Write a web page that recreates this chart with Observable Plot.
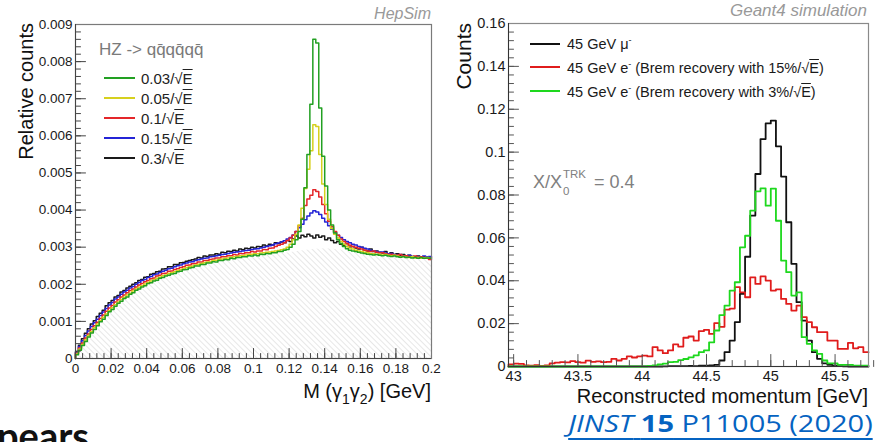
<!DOCTYPE html>
<html><head><meta charset="utf-8">
<script src="https://cdn.jsdelivr.net/npm/d3@7"></script>
<script src="https://cdn.jsdelivr.net/npm/@observablehq/plot@0.6"></script>
<style>
body{margin:0;background:#fff;}
#wrap{position:relative;width:885px;height:442px;overflow:hidden;font-family:"Liberation Sans",Arial,sans-serif;background:#fff;}
#wrap svg{position:absolute;top:0;}
.t{position:absolute;white-space:nowrap;line-height:1;}
.rot{transform:rotate(-90deg);transform-origin:0 0;}
.ov{text-decoration:overline;text-decoration-thickness:1px;}
.ln{position:absolute;height:2px;}
</style></head><body><div id="wrap"></div>
<script>
// ---------------- LEFT PANEL DATA (relative counts, in units of 1e-3) ----------------
const leftNames = ["0.03/√E", "0.05/√E", "0.1/√E", "0.15/√E", "0.3/√E"];
const leftColors = ["#22a022", "#d6d01e", "#e4262a", "#2424d6", "#1a1a1a"];
const leftDomainX = [0, 0.2];
const leftBins = 120;
const res003 = [0.1,0.22,0.35,0.46,0.58,0.69,0.78,0.88,0.99,1.06,
 1.16,1.26,1.32,1.41,1.49,1.54,1.62,1.66,1.73,1.77,
 1.84,1.87,1.93,1.96,2.02,2.04,2.09,2.11,2.16,2.18,
 2.22,2.24,2.28,2.29,2.34,2.35,2.39,2.4,2.44,2.45,
 2.49,2.49,2.53,2.53,2.57,2.57,2.61,2.6,2.64,2.64,
 2.67,2.66,2.7,2.69,2.72,2.72,2.74,2.74,2.77,2.76,
 2.79,2.77,2.81,2.8,2.83,2.82,2.85,2.85,2.88,2.88,
 2.92,2.94,3.0,3.08,3.2,3.42,3.75,4.6,5.5,6.85,
 8.6,8.5,6.75,5.45,4.65,4.0,3.6,3.38,3.2,3.1,
 3.02,2.96,2.92,2.9,2.88,2.86,2.84,2.83,2.81,2.8,
 2.79,2.8,2.78,2.77,2.78,2.76,2.75,2.76,2.74,2.73,
 2.74,2.72,2.73,2.71,2.72,2.7,2.72,2.7,2.71,2.7];
const res005 = [0.12,0.25,0.38,0.5,0.62,0.72,0.83,0.93,1.02,1.11,
 1.2,1.29,1.37,1.45,1.52,1.59,1.65,1.71,1.76,1.82,
 1.87,1.92,1.96,2.01,2.05,2.09,2.12,2.16,2.19,2.23,
 2.25,2.29,2.31,2.34,2.37,2.39,2.42,2.45,2.47,2.49,
 2.52,2.54,2.56,2.58,2.6,2.61,2.64,2.65,2.67,2.68,
 2.7,2.71,2.73,2.74,2.75,2.77,2.77,2.79,2.8,2.81,
 2.82,2.82,2.84,2.85,2.86,2.87,2.88,2.9,2.91,2.93,
 2.95,3.0,3.08,3.2,3.35,3.6,4.05,4.58,5.1,5.6,
 6.3,6.25,5.5,4.7,4.15,3.75,3.5,3.35,3.25,3.15,
 3.08,3.02,2.98,2.95,2.92,2.9,2.88,2.86,2.85,2.83,
 2.82,2.8,2.81,2.79,2.8,2.78,2.77,2.78,2.76,2.74,
 2.75,2.73,2.72,2.74,2.71,2.72,2.7,2.71,2.72,2.7];
const res010 = [0.14,0.28,0.42,0.55,0.66,0.78,0.88,0.98,1.08,1.17,
 1.27,1.36,1.43,1.52,1.58,1.66,1.71,1.77,1.83,1.87,
 1.93,1.98,2.02,2.07,2.1,2.15,2.17,2.22,2.24,2.29,
 2.3,2.35,2.36,2.4,2.42,2.45,2.47,2.51,2.52,2.55,
 2.56,2.6,2.6,2.64,2.64,2.67,2.68,2.71,2.71,2.74,
 2.74,2.77,2.77,2.8,2.79,2.83,2.82,2.85,2.85,2.88,
 2.87,2.9,2.9,2.94,2.93,2.97,2.98,3.02,3.05,3.08,
 3.12,3.18,3.25,3.32,3.42,3.58,3.78,4.12,4.3,4.4,
 4.55,4.5,4.35,4.15,3.9,3.7,3.55,3.42,3.32,3.22,
 3.15,3.1,3.05,3.02,3.0,2.97,2.95,2.92,2.9,2.88,
 2.9,2.86,2.84,2.85,2.82,2.8,2.81,2.79,2.78,2.8,
 2.76,2.77,2.75,2.74,2.76,2.73,2.74,2.72,2.7,2.67];
const res015 = [0.16,0.32,0.48,0.62,0.74,0.86,0.96,1.06,1.16,1.25,
 1.35,1.44,1.51,1.6,1.66,1.73,1.79,1.84,1.9,1.94,
 2.0,2.05,2.1,2.13,2.18,2.21,2.26,2.28,2.32,2.35,
 2.38,2.42,2.43,2.47,2.5,2.52,2.55,2.57,2.6,2.61,
 2.64,2.66,2.68,2.7,2.71,2.74,2.75,2.77,2.78,2.8,
 2.81,2.83,2.84,2.86,2.87,2.88,2.9,2.91,2.92,2.94,
 2.95,2.96,2.98,3.0,3.02,3.04,3.06,3.09,3.11,3.14,
 3.17,3.22,3.26,3.33,3.42,3.52,3.62,3.74,3.84,3.92,
 3.98,3.95,3.88,3.78,3.68,3.58,3.48,3.4,3.32,3.26,
 3.2,3.15,3.12,3.08,3.06,3.02,3.0,2.97,2.95,2.92,
 2.9,2.88,2.86,2.87,2.84,2.82,2.83,2.8,2.79,2.8,
 2.77,2.76,2.78,2.75,2.74,2.75,2.73,2.76,2.74,2.75];
const res030 = [0.18,0.36,0.53,0.68,0.8,0.93,1.02,1.13,1.22,1.3,
 1.42,1.5,1.56,1.66,1.7,1.79,1.83,1.9,1.95,2.0,
 2.04,2.1,2.13,2.19,2.2,2.27,2.29,2.34,2.35,2.41,
 2.42,2.47,2.47,2.53,2.53,2.58,2.59,2.62,2.64,2.66,
 2.68,2.72,2.71,2.76,2.75,2.79,2.79,2.82,2.81,2.86,
 2.85,2.89,2.88,2.92,2.9,2.95,2.93,2.97,2.96,3.0,
 2.98,3.02,3.01,3.06,3.03,3.08,3.06,3.12,3.1,3.14,
 3.12,3.18,3.15,3.22,3.3,3.25,3.32,3.28,3.35,3.3,
 3.25,3.33,3.27,3.3,3.2,3.25,3.18,3.12,3.15,3.08,
 3.05,3.1,3.0,3.02,2.98,2.95,3.0,2.92,2.9,2.95,
 2.88,2.9,2.86,2.84,2.88,2.82,2.85,2.8,2.82,2.78,
 2.8,2.76,2.78,2.75,2.74,2.76,2.72,2.74,2.73,2.72];
// hatched background shape (units 1e-3)
const hatchX = [0,0.01,0.02,0.03,0.04,0.05,0.06,0.07,0.08,0.09,0.1,0.11,0.12,0.13,0.14,0.15,0.16,0.17,0.18,0.19,0.2];
const hatchY = [0,0.72,1.3,1.7,1.98,2.18,2.36,2.5,2.6,2.68,2.76,2.8,2.85,2.92,2.96,2.92,2.84,2.78,2.75,2.72,2.7];
const leftXTicks = [0,0.02,0.04,0.06,0.08,0.1,0.12,0.14,0.16,0.18,0.2];
const leftYTicks = [0,0.001,0.002,0.003,0.004,0.005,0.006,0.007,0.008,0.009];

// ---------------- RIGHT PANEL DATA (counts) ----------------
const rightNames = ["45 GeV μ-", "45 GeV e- (Brem recovery with 15%/√E)", "45 GeV e- (Brem recovery with 3%/√E)"];
const rightColors = ["#111111", "#e01c1c", "#1ed81e"];
const rightDomainX = [42.96, 45.76];
const rightBins = 70;
const muon45 = [0,0,0,0,0,0,0,0,0,0,
 0,0,0,0,0,0,0,0,0,0,
 0,0,0,0,0,0,0,0,0,0,
 0.0001,0.0002,0.0002,0.0002,0.0002,0.0003,0.0002,0.0004,0.0004,0.0005,
 0.0008,0.0028,0.0067,0.0121,0.0207,0.0339,0.0512,0.0704,0.0898,0.1061,
 0.1134,0.1147,0.1027,0.0886,0.0673,0.0479,0.030,0.0214,0.0121,0.0067,
 0.0036,0.0015,0.0008,0.0004,0.0002,0.0001,0,0,0,0];
const elec15 = [0.001,0.0013,0.0012,0.0005,0.0004,0.0006,0.0003,0.0005,0.0015,0.0018,
 0.002,0.0019,0.0025,0.002,0.0018,0.0027,0.0022,0.0024,0.002,0.0022,
 0.0036,0.0028,0.0036,0.0047,0.0042,0.0047,0.0051,0.0047,0.009,0.0075,
 0.0062,0.0075,0.0103,0.0093,0.0134,0.014,0.0121,0.0165,0.0171,0.0152,
 0.0202,0.0185,0.0265,0.027,0.037,0.0346,0.0323,0.0416,0.0385,0.042,
 0.0401,0.0354,0.036,0.0315,0.0292,0.0261,0.0284,0.023,0.0207,0.0183,
 0.016,0.016,0.0121,0.0121,0.0082,0.0082,0.011,0.0085,0.009,0.0067];
const elec3 = [0,0,0,0,0,0,0,0,0,0,
 0,0,0,0,0,0,0,0,0,0,
 0,0,0,0,0,0,0,0.0003,0.0005,0.001,
 0.0013,0.002,0.0022,0.003,0.0035,0.0043,0.0052,0.0067,0.0075,0.0113,
 0.0168,0.024,0.0284,0.0354,0.0393,0.0556,0.061,0.0727,0.0817,0.0831,
 0.075,0.083,0.068,0.0494,0.044,0.0331,0.0346,0.0137,0.0106,0.0075,
 0.0059,0.0028,0.0015,0.0015,0.0008,0.0008,0.0008,0.0004,0.0004,0.0004];
const rightXTicks = [43,43.5,44,44.5,45,45.5];
const rightYTicks = [0,0.02,0.04,0.06,0.08,0.1,0.12,0.14,0.16];

// ---------------- helpers ----------------
function binEdges(domain, n) { return d3.range(n + 1).map(i => domain[0] + (domain[1] - domain[0]) * i / n); }
function stepTable(edges, vals, unit) {
  const pts = [{x: edges[0], y: 0}];
  vals.forEach((v, i) => pts.push({x: edges[i], y: v * unit}));
  pts.push({x: edges[vals.length], y: vals[vals.length - 1] * unit});
  return pts;
}
const tickLine = {draw(ctx, l) { ctx.moveTo(0, 0); ctx.lineTo(0, -l); }};
function ticksX(values, len, color) { return Plot.vector(values, {x: d => d, frameAnchor: "bottom", length: len, rotate: 0, anchor: "start", shape: tickLine, stroke: color, strokeWidth: 1}); }
function ticksY(values, len, color) { return Plot.vector(values, {y: d => d, frameAnchor: "left", length: len, rotate: 90, anchor: "start", shape: tickLine, stroke: color, strokeWidth: 1}); }

const wrap = document.getElementById("wrap");

// ---------------- LEFT PLOT ----------------
const lEdges = binEdges(leftDomainX, leftBins);
const leftSeries = [res030, res015, res010, res005, res003];
const leftSeriesColors = [leftColors[4], leftColors[3], leftColors[2], leftColors[1], leftColors[0]];
const hatchData = hatchX.map((x, i) => ({x, y: hatchY[i] * 1e-3}));
const lMinorX = d3.range(0, 51).map(i => i * 0.004);
const lMinorY = d3.range(0, 46).map(i => i * 0.0002);

const svgL = Plot.plot({
  width: 450, height: 442,
  marginLeft: 75, marginRight: 19, marginTop: 24, marginBottom: 84,
  style: {fontFamily: "'Liberation Sans', Arial, sans-serif", fontSize: "13.5px", color: "#1a1a1a", background: "transparent"},
  x: {domain: leftDomainX},
  y: {domain: [0, 0.009]},
  marks: [
    Plot.areaY(hatchData, {x: "x", y: "y", curve: "monotone-x", fill: "url(#hatchL)"}),
    ...leftSeries.map((s, i) => Plot.line(stepTable(lEdges, s, 1e-3), {x: "x", y: "y", curve: "step-after", stroke: leftSeriesColors[i], strokeWidth: 1.5})),
    ticksX(lMinorX, 5, "#444"),
    ticksX(leftXTicks, 10, "#444"),
    ticksY(lMinorY, 5, "#444"),
    ticksY(leftYTicks, 10, "#444"),
    Plot.axisX(leftXTicks, {tickSize: 0, tickPadding: 5, label: null, tickFormat: d => String(d)}),
    Plot.axisY(leftYTicks, {tickSize: 0, tickPadding: 3, label: null, tickFormat: d => String(d)}),
    Plot.frame({stroke: "#7a7a7a", strokeWidth: 1.2}),
    Plot.ruleX([0], {stroke: "#444"}),
    Plot.ruleY([0], {stroke: "#444"})
  ]
});
svgL.style.left = "0px";
const defsL = d3.select(svgL).insert("defs", ":first-child");
const pat = defsL.append("pattern").attr("id", "hatchL").attr("patternUnits", "userSpaceOnUse")
  .attr("width", 4).attr("height", 4).attr("patternTransform", "rotate(-45)");
pat.append("line").attr("x1", 0).attr("y1", 0).attr("x2", 0).attr("y2", 4).attr("stroke", "#cfcfcf").attr("stroke-width", 1);
wrap.appendChild(svgL);

// ---------------- RIGHT PLOT ----------------
const rEdges = binEdges(rightDomainX, rightBins);
const rMinorX = d3.range(0, 29).map(i => 43 + i * 0.1);
const rMinorY = d3.range(0, 41).map(i => i * 0.004);
const svgR = Plot.plot({
  width: 435, height: 442,
  marginLeft: 58, marginRight: 17, marginTop: 23, marginBottom: 76,
  style: {fontFamily: "'Liberation Sans', Arial, sans-serif", fontSize: "14.5px", color: "#1a1a1a", background: "transparent"},
  x: {domain: rightDomainX},
  y: {domain: [0, 0.16]},
  marks: [
    Plot.line(stepTable(rEdges, muon45, 1), {x: "x", y: "y", curve: "step-after", stroke: rightColors[0], strokeWidth: 1.8}),
    Plot.line(stepTable(rEdges, elec15, 1), {x: "x", y: "y", curve: "step-after", stroke: rightColors[1], strokeWidth: 1.8}),
    Plot.line(stepTable(rEdges, elec3, 1), {x: "x", y: "y", curve: "step-after", stroke: rightColors[2], strokeWidth: 1.8}),
    ticksX(rMinorX, 6, "#555"),
    ticksX(rightXTicks, 12, "#555"),
    ticksY(rMinorY, 5, "#555"),
    ticksY(rightYTicks, 10, "#555"),
    Plot.axisX(rightXTicks, {tickSize: 0, tickPadding: 4, label: null, tickFormat: d => String(d)}),
    Plot.axisY(rightYTicks, {tickSize: 0, tickPadding: 3, label: null, tickFormat: d => String(d)}),
    Plot.frame({stroke: "#8a8a8a", strokeWidth: 1.2}),
    Plot.ruleX([rightDomainX[0]], {stroke: "#333"}),
    Plot.ruleY([0], {stroke: "#333"})
  ]
});
svgR.style.left = "450px";
wrap.appendChild(svgR);

// ---------------- TEXT OVERLAYS ----------------
function addHTML(html) { wrap.insertAdjacentHTML("beforeend", html); }
// left panel
addHTML(`<div class="t" style="right:454px;top:6px;font-size:16px;font-style:italic;color:#999">HepSim</div>`);
addHTML(`<div class="t rot" style="left:16px;top:223px;width:200px;text-align:right;font-size:20px;color:#111">Relative counts</div>`);
addHTML(`<div class="t" style="left:99px;top:41px;font-size:17px;color:#7a7a7a">HZ -&gt; qq\u0304qq\u0304qq\u0304</div>`);
leftNames.forEach((name, i) => {
  const yc = 78 + i * 20;
  const parts = name.split("√");
  addHTML(`<div class="ln" style="left:104px;width:31px;top:${yc - 1}px;background:${leftColors[i]}"></div>`);
  addHTML(`<div class="t" style="left:141px;top:${yc - 7.4}px;font-size:15px;color:#222">${parts[0]}√<span class="ov">${parts[1]}</span></div>`);
});
addHTML(`<div class="t" style="right:454px;top:381px;font-size:20px;color:#111">M (γ<sub style="font-size:14px;vertical-align:-6px">1</sub>γ<sub style="font-size:14px;vertical-align:-6px">2</sub>) [GeV]</div>`);
addHTML(`<div class="t" style="left:-3px;top:416px;font-size:38px;font-weight:bold;font-family:Lato,'Open Sans',sans-serif;color:#111">pears</div>`);
// right panel
addHTML(`<div class="t" style="right:18px;top:2px;font-size:17px;font-style:italic;color:#999">Geant4 simulation</div>`);
addHTML(`<div class="t rot" style="left:453px;top:223px;width:200px;text-align:right;font-size:21px;color:#111">Counts</div>`);
const rYc = [43.5, 67.3, 90.8];
rightNames.forEach((name, i) => {
  const yc = rYc[i];
  let html = name.replace("μ-", "μ<sup style='font-size:9px;vertical-align:6px'>-</sup>").replace("e-", "e<sup style='font-size:9px;vertical-align:6px'>-</sup>");
  html = html.replace("√E", "√<span class='ov'>E</span>");
  addHTML(`<div class="ln" style="left:530px;width:30px;top:${Math.round(yc - 1)}px;background:${rightColors[i]}"></div>`);
  addHTML(`<div class="t" style="left:567px;top:${yc - 7.1}px;font-size:14.5px;color:#1a1a1a">${html}</div>`);
});
addHTML(`<div class="t" style="left:533px;top:170px;font-size:18px;color:#808080">X/X<span style="display:inline-block;position:relative;width:27px;height:18px;"><span style="position:absolute;left:1px;top:-1px;font-size:11.5px;line-height:1">TRK</span><span style="position:absolute;left:1px;top:16px;font-size:11.5px;line-height:1">0</span></span> = 0.4</div>`);
addHTML(`<div class="t" style="right:17px;top:386px;font-size:20px;color:#111">Reconstructed momentum [GeV]</div>`);
addHTML(`<div class="t" style="right:12px;top:412px;font-size:23px;font-family:'Open Sans',sans-serif;color:#0563C1;text-decoration:underline;text-underline-offset:6px;text-decoration-thickness:1.5px;transform:scaleX(1.26);transform-origin:100% 50%"><i>JINST</i> <b>15</b> P11005 (2020)</div>`);
</script></body></html>
